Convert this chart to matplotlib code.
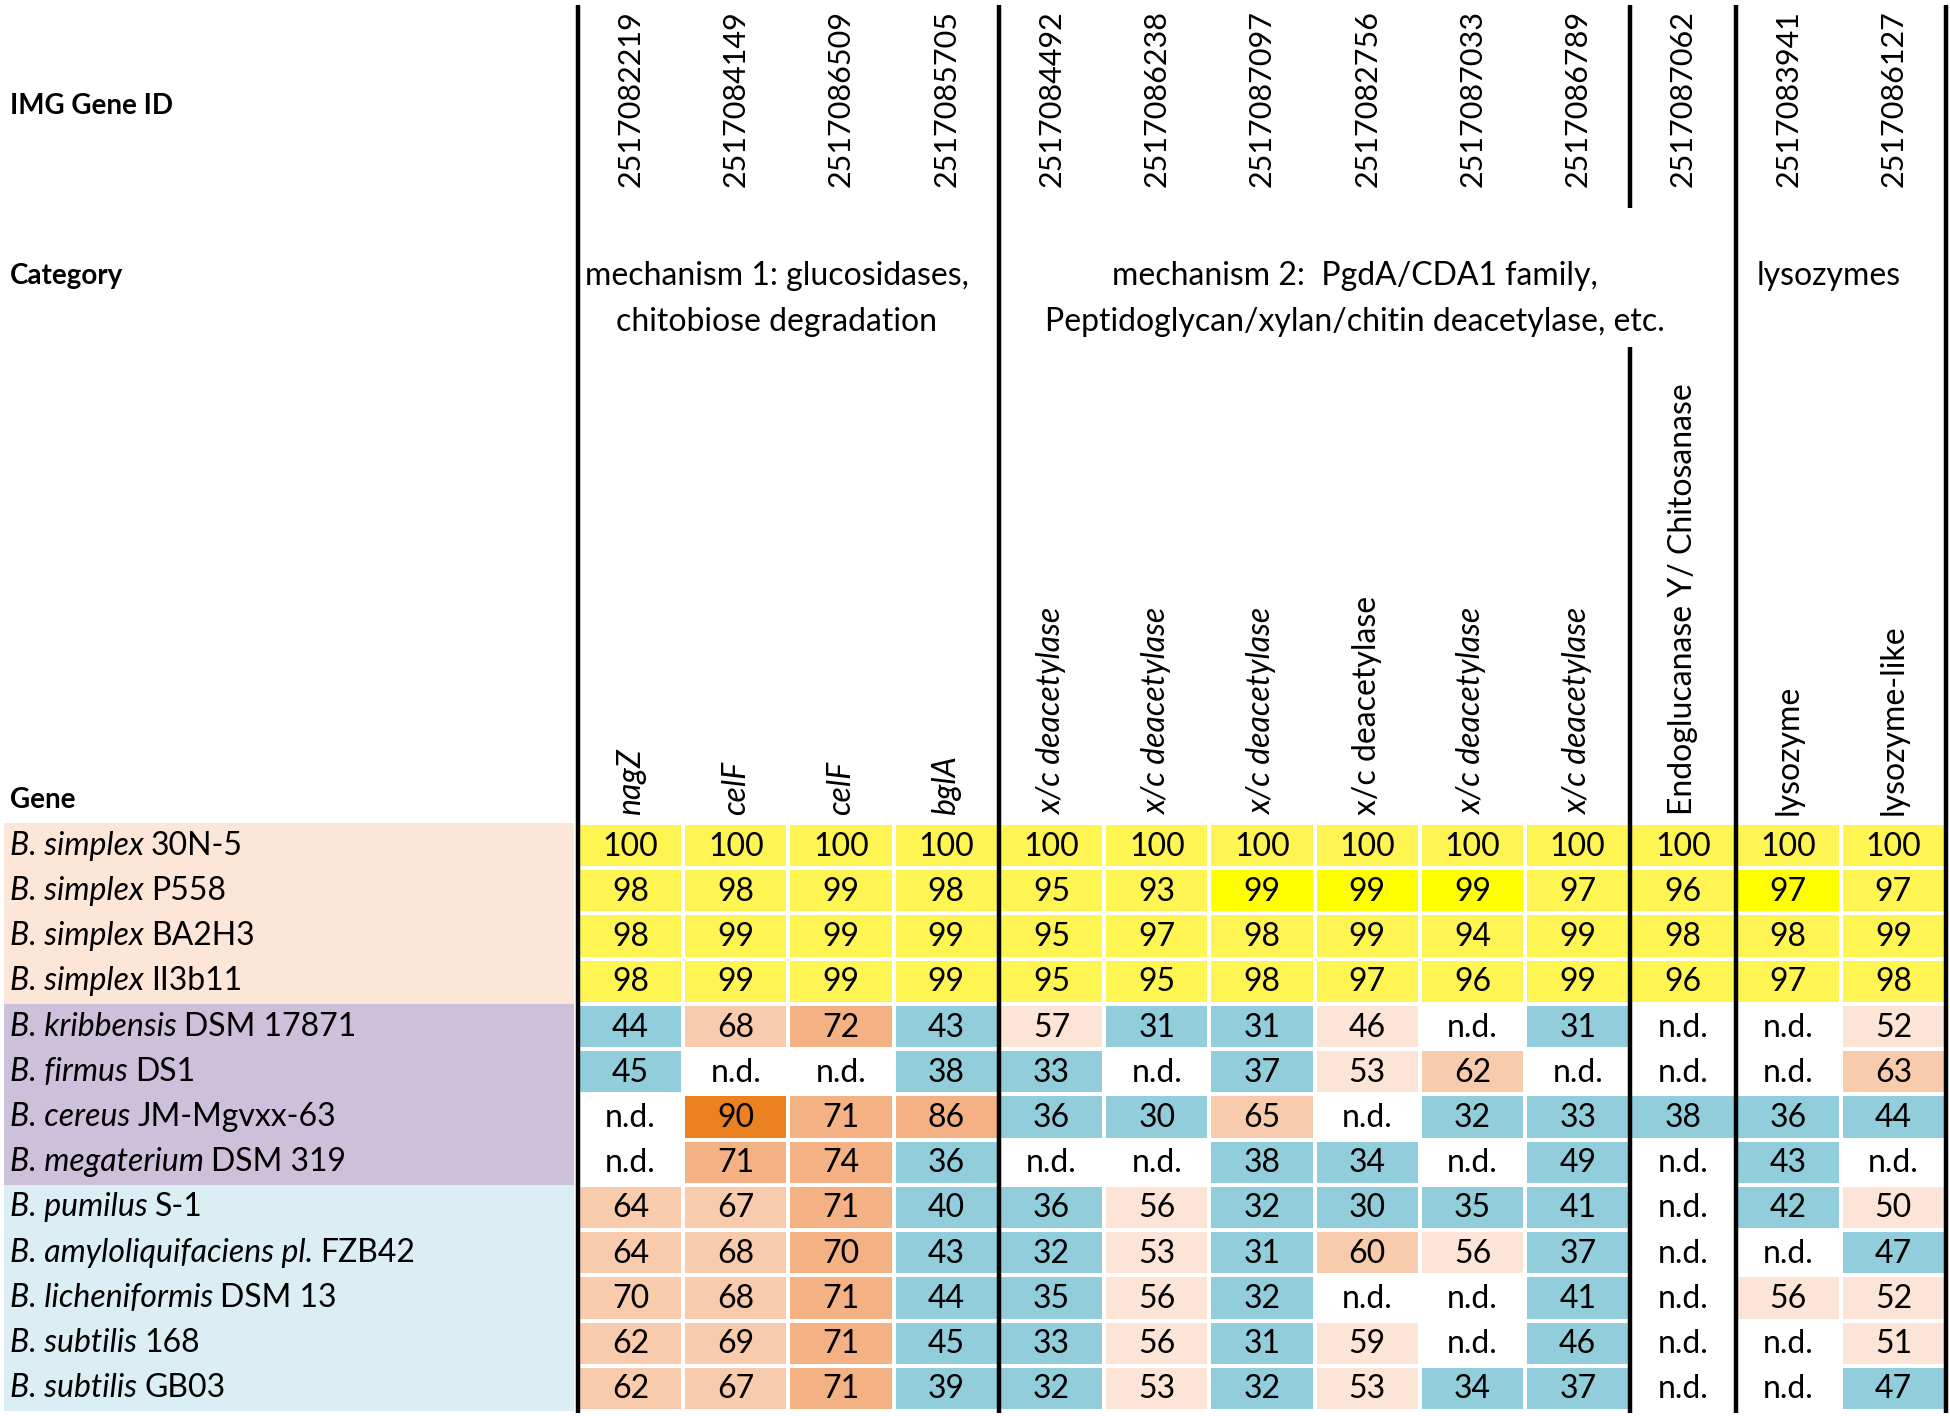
import numpy as np
import matplotlib
matplotlib.use("Agg")
import matplotlib.pyplot as plt
from matplotlib.patches import Rectangle

plt.rcParams['font.family'] = ['Lato', 'DejaVu Sans']

# ---- data ----
gene_ids = ["2517082219", "2517084149", "2517086509", "2517085705",
            "2517084492", "2517086238", "2517087097", "2517082756",
            "2517087033", "2517086789", "2517087062", "2517083941",
            "2517086127"]
genes = ["nagZ", "celF", "celF", "bglA",
         "x/c deacetylase", "x/c deacetylase", "x/c deacetylase",
         "x/c deacetylase", "x/c deacetylase", "x/c deacetylase",
         "Endoglucanase Y/ Chitosanase", "lysozyme", "lysozyme-like"]
gene_italic = [1, 1, 1, 1, 1, 1, 1, 0, 1, 1, 0, 0, 0]

categories = [("mechanism 1: glucosidases,\nchitobiose degradation", 0, 4),
              ("mechanism 2:  PgdA/CDA1 family,\nPeptidoglycan/xylan/chitin deacetylase, etc.", 4, 11),
              ("lysozymes", 11, 13)]

species = ["B. simplex", "B. simplex", "B. simplex", "B. simplex",
           "B. kribbensis", "B. firmus", "B. cereus", "B. megaterium",
           "B. pumilus", "B. amyloliquifaciens pl.", "B. licheniformis",
           "B. subtilis", "B. subtilis"]
strains = ["30N-5", "P558", "BA2H3", "II3b11", "DSM 17871", "DS1",
           "JM-Mgvxx-63", "DSM 319", "S-1", "FZB42", "DSM 13", "168", "GB03"]
groups = ["s", "s", "s", "s", "p", "p", "p", "p", "c", "c", "c", "c", "c"]

values = [
    [100, 100, 100, 100, 100, 100, 100, 100, 100, 100, 100, 100, 100],
    [98, 98, 99, 98, 95, 93, 99, 99, 99, 97, 96, 97, 97],
    [98, 99, 99, 99, 95, 97, 98, 99, 94, 99, 98, 98, 99],
    [98, 99, 99, 99, 95, 95, 98, 97, 96, 99, 96, 97, 98],
    [44, 68, 72, 43, 57, 31, 31, 46, None, 31, None, None, 52],
    [45, None, None, 38, 33, None, 37, 53, 62, None, None, None, 63],
    [None, 90, 71, 86, 36, 30, 65, None, 32, 33, 38, 36, 44],
    [None, 71, 74, 36, None, None, 38, 34, None, 49, None, 43, None],
    [64, 67, 71, 40, 36, 56, 32, 30, 35, 41, None, 42, 50],
    [64, 68, 70, 43, 32, 53, 31, 60, 56, 37, None, None, 47],
    [70, 68, 71, 44, 35, 56, 32, None, None, 41, None, 56, 52],
    [62, 69, 71, 45, 33, 56, 31, 59, None, 46, None, None, 51],
    [62, 67, 71, 39, 32, 53, 32, 53, 34, 37, None, None, 47],
]

# colour class of each cell as printed in the table
levels = [
    "yyyyyyyyyyyyy",
    "yyyyyyYYYyyYy",
    "yyyyyyyyyyyyy",
    "yyyyyyyyyyyyy",
    "bmoblbbl b  l",
    "b  bb blm   m",
    " doobbm bbbbb",
    " oob  bb b b ",
    "mmobblbbbb bl",
    "mmobblbmlb  b",
    "mmobblb  b ll",
    "mmobblbl b  l",
    "mmobblblbb  b",
]

cell_colors = {"y": "#FFF552", "Y": "#FFFF00", "b": "#92CDDC",
               "l": "#FCE4D6", "m": "#F8CBAD", "o": "#F4B183",
               "d": "#EC8122", " ": None}
group_colors = {"s": "#FCE6D8", "p": "#CCC0DA", "c": "#DAEEF3"}

# ---- layout ----
W, H = 1950, 1416
x0, x1 = 578, 1946
y0, y1 = 823, 1411
ncol, nrow = len(gene_ids), len(species)
cw = (x1 - x0) / ncol
rh = (y1 - y0) / nrow
fs = 23

fig = plt.figure(figsize=(W / 100, H / 100), dpi=100)
ax = fig.add_axes([0, 0, 1, 1])
ax.set_xlim(0, W)
ax.set_ylim(H, 0)
ax.axis('off')
renderer = fig.canvas.get_renderer()

def cx(j):
    return x0 + (j + 0.5) * cw

def cy(i):
    return y0 + (i + 0.5) * rh

# row header backgrounds and labels (italic species + upright strain)
for i in range(nrow):
    ax.add_patch(Rectangle((4, y0 + i * rh), x0 - 8, rh, color=group_colors[groups[i]], lw=0))
    t = ax.text(10, cy(i), species[i], fontsize=fs, style='italic', va='center', ha='left')
    bb = t.get_window_extent(renderer)
    xe = ax.transData.inverted().transform((bb.x1, bb.y0))[0]
    ax.text(xe + 7, cy(i), strains[i], fontsize=fs, va='center', ha='left')

# data cells
for i in range(nrow):
    for j in range(ncol):
        c = cell_colors[levels[i][j]]
        if c is not None:
            ax.add_patch(Rectangle((x0 + j * cw + 2, y0 + i * rh + 2), cw - 4, rh - 4, color=c, lw=0))
        v = values[i][j]
        ax.text(cx(j), cy(i) + 1, "n.d." if v is None else str(v), fontsize=fs, ha='center', va='center')

# header rows
ax.text(10, 106, "IMG Gene ID", fontsize=20, fontweight='bold', va='center')
ax.text(10, 276, "Category", fontsize=20, fontweight='bold', va='center')
ax.text(10, 800, "Gene", fontsize=20, fontweight='bold', va='center')

for j, gid in enumerate(gene_ids):
    ax.text(cx(j), 10, gid, fontsize=22, rotation=90, rotation_mode='anchor', ha='right', va='center')
    ax.text(cx(j), 815, genes[j], fontsize=fs, rotation=90, rotation_mode='anchor', ha='left', va='center',
            style='italic' if gene_italic[j] else 'normal')

for label, a, b in categories:
    for k, ln in enumerate(label.split("\n")):
        ax.text(x0 + (a + b) / 2 * cw - 12, 276 + k * 46, ln, fontsize=fs, ha='center', va='center')

# vertical separators
for b in [0, 4, 11, 13]:
    ax.plot([x0 + b * cw, x0 + b * cw], [5, y1 + 2], color='black', lw=3.2, solid_capstyle='butt')
xb = x0 + 10 * cw
ax.plot([xb, xb], [5, 208], color='black', lw=3.2, solid_capstyle='butt')
ax.plot([xb, xb], [347, y1 + 2], color='black', lw=3.2, solid_capstyle='butt')

fig.savefig("out.png", dpi=100)
